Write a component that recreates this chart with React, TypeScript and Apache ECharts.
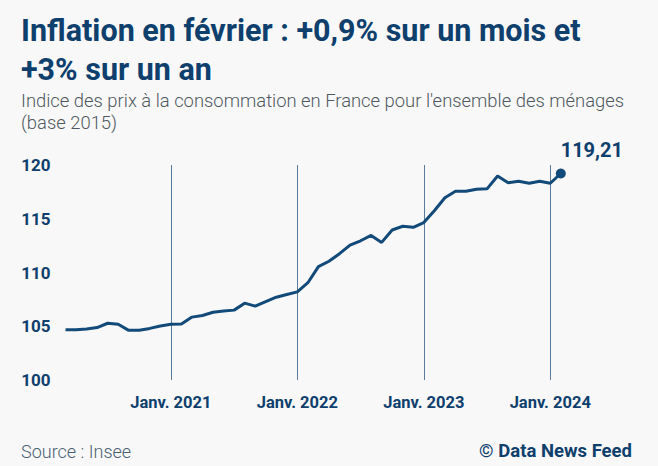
import React, { useEffect, useRef } from "react";
import * as echarts from "echarts";

// Monthly consumer price index, France, all households (base 2015 = 100)
const months = [
  "2020-03", "2020-04", "2020-05", "2020-06", "2020-07", "2020-08", "2020-09", "2020-10", "2020-11", "2020-12",
  "2021-01", "2021-02", "2021-03", "2021-04", "2021-05", "2021-06", "2021-07", "2021-08", "2021-09", "2021-10", "2021-11", "2021-12",
  "2022-01", "2022-02", "2022-03", "2022-04", "2022-05", "2022-06", "2022-07", "2022-08", "2022-09", "2022-10", "2022-11", "2022-12",
  "2023-01", "2023-02", "2023-03", "2023-04", "2023-05", "2023-06", "2023-07", "2023-08", "2023-09", "2023-10", "2023-11", "2023-12",
  "2024-01", "2024-02",
];

const cpi = [
  104.68, 104.68, 104.75, 104.88, 105.28, 105.18, 104.62, 104.62, 104.8, 105.02,
  105.18, 105.2, 105.85, 106.0, 106.3, 106.42, 106.5, 107.15, 106.87, 107.3, 107.7, 107.95,
  108.2, 109.05, 110.55, 111.05, 111.75, 112.55, 112.95, 113.45, 112.8, 113.95, 114.3, 114.2,
  114.65, 115.75, 116.95, 117.55, 117.55, 117.75, 117.78, 118.98, 118.35, 118.48, 118.3, 118.48,
  118.3, 119.21,
];

const yearTickMonths = ["2021-01", "2022-01", "2023-01", "2024-01"];
const yearTickLabels = ["Janv. 2021", "Janv. 2022", "Janv. 2023", "Janv. 2024"];

const NAVY = "#0e3f6d";
const LINE = "#124a79";
const GRID = "#5a7c9c";
const BG = "#f8f8f8";
const FONT = "Roboto, 'Noto Sans', sans-serif";

export default function App() {
  const ref = useRef<HTMLDivElement>(null);

  useEffect(() => {
    if (!ref.current) return;
    const chart = echarts.init(ref.current, null, { renderer: "svg" });
    const last = cpi.length - 1;
    const isYearTick = (i: number) => yearTickMonths.includes(months[i]);

    const seriesData = cpi.map((v, i) =>
      i === last
        ? {
            value: v,
            symbol: "circle",
            symbolSize: 10,
            itemStyle: { color: LINE },
            label: {
              show: true,
              position: "top",
              distance: 5,
              offset: [31, -3],
              formatter: (p: any) => p.value.toFixed(2).replace(".", ","),
              fontFamily: FONT,
              fontWeight: 700,
              fontSize: 20,
              color: NAVY,
            },
          }
        : v
    );

    chart.setOption({
      animation: false,
      backgroundColor: BG,
      textStyle: { fontFamily: FONT },
      grid: { left: 65.5, right: 97.2, top: 165, bottom: 86, containLabel: false },
      xAxis: {
        type: "category",
        data: months,
        boundaryGap: false,
        axisLine: { show: false },
        axisTick: { show: false },
        axisLabel: {
          interval: (i: number) => isYearTick(i),
          formatter: (v: string) => yearTickLabels[yearTickMonths.indexOf(v)] ?? "",
          margin: 14,
          fontFamily: FONT,
          fontWeight: 700,
          fontSize: 16.5,
          color: NAVY,
        },
        splitLine: {
          show: true,
          interval: (i: number) => isYearTick(i),
          lineStyle: { color: GRID, width: 1 },
        },
      },
      yAxis: {
        type: "value",
        min: 100,
        max: 120,
        interval: 5,
        axisLine: { show: false },
        axisTick: { show: false },
        splitLine: { show: false },
        axisLabel: {
          margin: 15,
          fontFamily: FONT,
          fontWeight: 700,
          fontSize: 17,
          color: NAVY,
        },
      },
      series: [
        {
          type: "line",
          data: seriesData,
          symbol: "none",
          lineStyle: { color: LINE, width: 3 },
          itemStyle: { color: LINE },
          z: 3,
        },
      ],
      graphic: [
        {
          type: "text",
          x: 21,
          y: 30,
          style: {
            text: "Inflation en février : +0,9% sur un mois et",
            font: `700 30.5px ${FONT}`,
            fill: NAVY,
            textAlign: "left",
            textVerticalAlign: "middle",
          },
        },
        {
          type: "text",
          x: 21,
          y: 69,
          style: {
            text: "+3% sur un an",
            font: `700 30.5px ${FONT}`,
            fill: NAVY,
            textAlign: "left",
            textVerticalAlign: "middle",
          },
        },
        {
          type: "text",
          x: 21,
          y: 100,
          style: {
            text: "Indice des prix à la consommation en France pour l'ensemble des ménages",
            font: `300 18.4px ${FONT}`,
            fill: "#4f5860",
            textAlign: "left",
            textVerticalAlign: "middle",
          },
        },
        {
          type: "text",
          x: 21,
          y: 122,
          style: {
            text: "(base 2015)",
            font: `300 18.4px ${FONT}`,
            fill: "#4f5860",
            textAlign: "left",
            textVerticalAlign: "middle",
          },
        },
        {
          type: "text",
          x: 21,
          y: 451,
          style: {
            text: "Source : Insee",
            font: `300 18px ${FONT}`,
            fill: "#4a5f74",
            textAlign: "left",
            textVerticalAlign: "middle",
          },
        },
        {
          type: "text",
          x: 632,
          y: 451,
          style: {
            text: "© Data News Feed",
            font: `700 18.5px ${FONT}`,
            fill: NAVY,
            textAlign: "right",
            textVerticalAlign: "middle",
          },
        },
      ],
    });

    return () => chart.dispose();
  }, []);

  return (
    <div
      ref={ref}
      style={{ position: "absolute", left: 0, top: 0, width: 658, height: 466, background: BG }}
    />
  );
}
